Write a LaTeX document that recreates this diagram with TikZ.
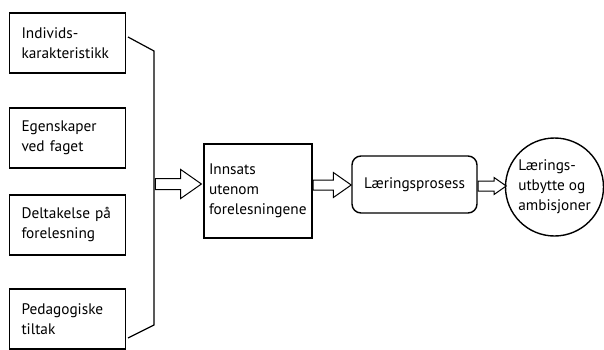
\documentclass[tikz,border=0pt]{standalone}
\usepackage{fontspec}
\setmainfont{PT Sans}
\usetikzlibrary{shapes.arrows, positioning, calc}
\tikzset {
    x=1pt,
    y=-1pt,
    every node/.style={font=\fontsize{15.3}{20}\selectfont},
    factor/.style={draw, line width=1.4pt, text width=92pt, inner xsep=12pt, inner ysep=0pt, minimum height=60pt, align=left},
    fat/.style={single arrow, draw, line width=1pt, inner xsep=0pt, single arrow tip angle=70, single arrow head indent=0pt}
}

\begin{document}
\begin{tikzpicture}
    \useasboundingbox (0,0) rectangle (604,350);

    \node[factor] (k1) at (67.5,43) {Individs-\\karakteristikk};
    \node[factor] (k2) at (67.5,138) {Egenskaper\\ved faget};
    \node[factor] (k3) at (67.5,225) {Deltakelse på\\forelesning};
    \node[factor] (k4) at (67.5,319) {Pedagogiske\\tiltak};

    \node[draw, line width=1.4pt, text width=98pt, inner xsep=5pt, minimum height=94pt, align=left] (inn) at (258,191) {Innsats\\utenom\\forelesningene};
    \node[draw, line width=1.4pt, rounded corners=9pt, minimum width=125pt, minimum height=57pt] (proc) at (414.5,184.5) {Læringsprosess};
    \node[circle, draw, line width=1.4pt, minimum size=98pt, inner sep=0pt, align=left] (res) at (554.5,187) {Lærings-\\utbytte og\\ambisjoner};

    % bracket
    \coordinate (b1) at (128,37);
    \coordinate (b2) at (154,51);
    \coordinate (b3) at (154,325);
    \coordinate (b4) at (128,338);
    \draw[line width=1.2pt] (b1) -- (b2) -- (b3) -- (b4);

    \node[fat, minimum height=46pt, inner ysep=5pt, single arrow head extend=9pt, anchor=tip] (a1) at ($(inn.west)+(-1,-7)$) {};
    \node[fat, minimum height=38pt, inner ysep=4.5pt, single arrow head extend=7.5pt, anchor=tail] (a2) at ($(inn.east)+(0,-6)$) {};
    \node[fat, minimum height=28pt, inner ysep=4.5pt, single arrow head extend=3.5pt, anchor=tail] (a3) at ($(proc.east)+(0,1.5)$) {};
\end{tikzpicture}
\end{document}
